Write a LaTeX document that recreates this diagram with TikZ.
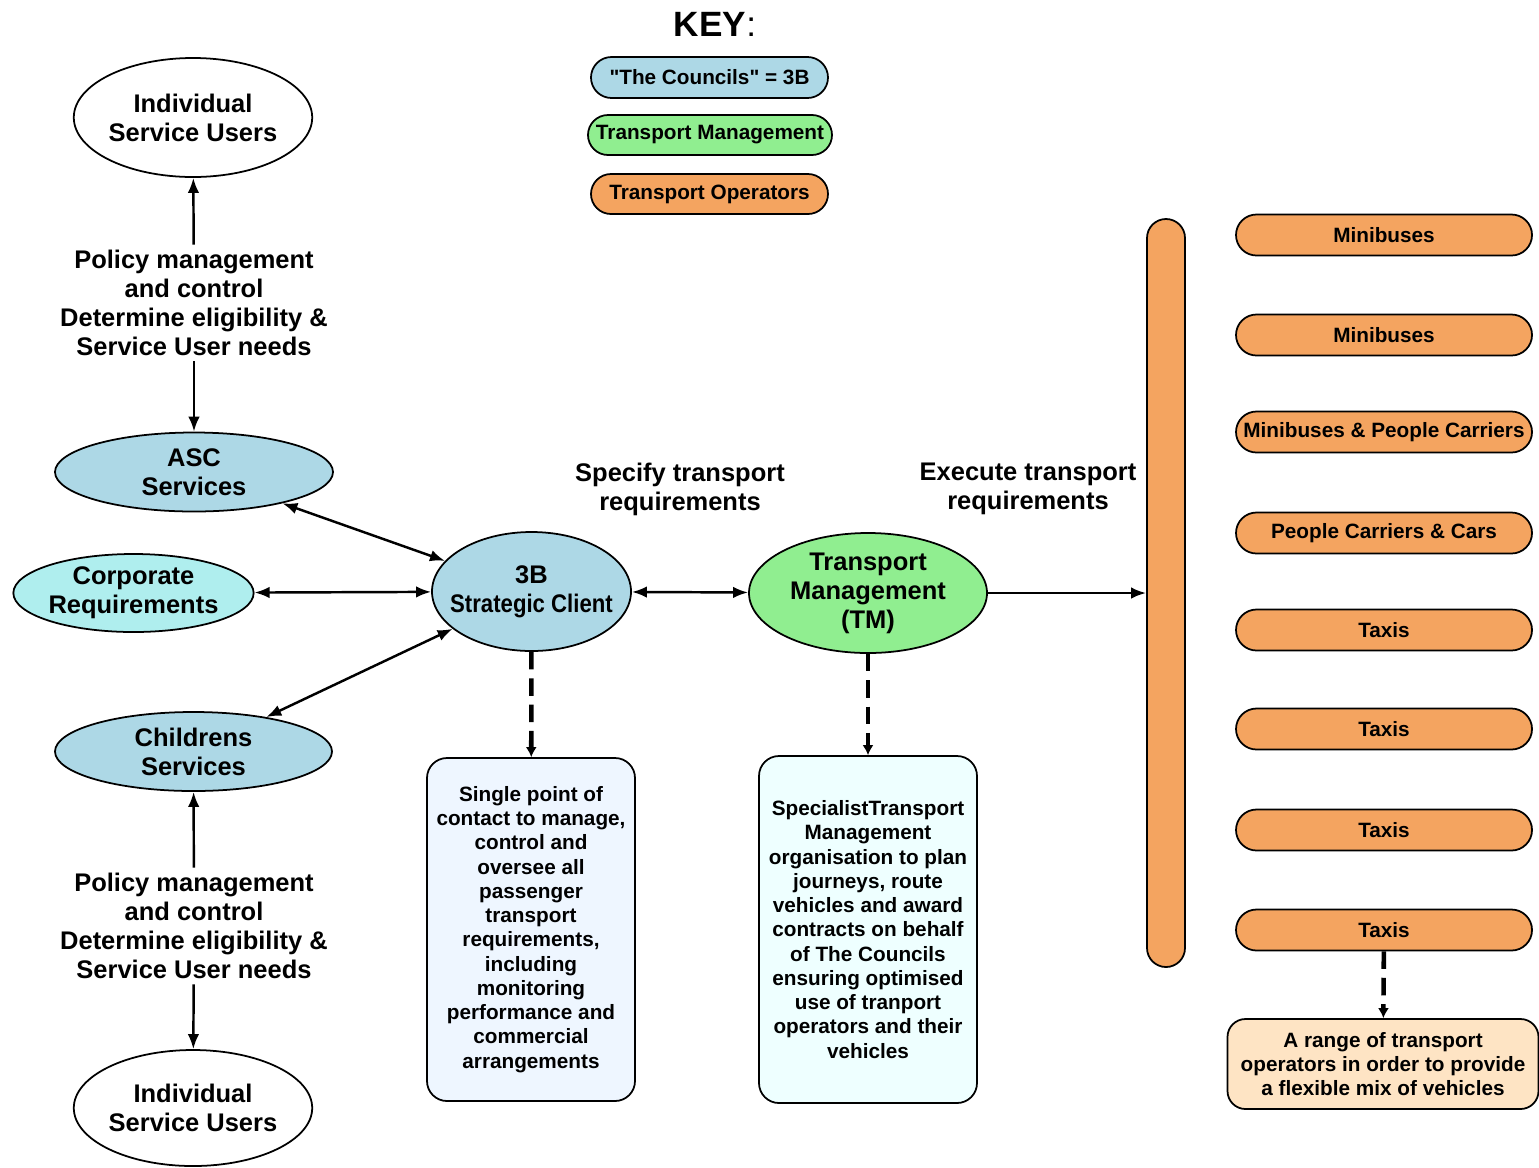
\documentclass[tikz,border=0pt]{standalone}
\usepackage{fontspec}
\setmainfont{Liberation Sans}[Ligatures=TeXOff]
\newfontfamily\narrowsf{Liberation Sans}[FakeStretch=0.87]
\usetikzlibrary{shapes, arrows.meta, positioning}
\definecolor{councilblue}{RGB}{173,216,230}
\definecolor{corpcyan}{RGB}{175,238,238}
\definecolor{tmgreen}{RGB}{144,238,144}
\definecolor{opsorange}{RGB}{244,164,96}
\definecolor{clientnote}{RGB}{238,246,255}
\definecolor{tmnote}{RGB}{238,255,255}
\definecolor{rangepeach}{RGB}{254,228,196}
\newcommand\lblfont{\fontsize{14.5}{16.5}\selectfont\bfseries}
\newcommand\notefont{\fontsize{11.8}{13.8}\selectfont\bfseries}
\newcommand\pilltext{\fontsize{11.8}{14}\selectfont\bfseries}
\tikzset{
  oval/.style={draw, ellipse, line width=1pt, inner sep=0pt, align=center, font=\lblfont},
  pill/.style={draw, rounded rectangle, fill=opsorange, line width=1pt, inner sep=0pt, font=\pilltext},
  notebox/.style={draw, rectangle, rounded corners=4mm, line width=1pt, inner sep=0pt, align=center, font=\notefont},
  lbl/.style={align=center, inner sep=3pt, font=\lblfont},
  flow/.style={{Latex[length=3mm,width=2.3mm]}-{Latex[length=3mm,width=2.3mm]}, line width=1.4pt},
  oneway/.style={-{Latex[length=3mm,width=2.3mm]}, line width=1.4pt},
  dashlink/.style={-{Latex[length=2mm,width=2.2mm]}, line width=2.6pt, dash pattern=on 10pt off 5pt}
}

\begin{document}
\begin{tikzpicture}[x=0.2mm, y=-0.2mm]
    \useasboundingbox (0,0) rectangle (1539,1167);

    % key
    \node [font=\fontsize{20}{24}\selectfont] (keytitle) at (715,24) {\textbf{KEY}:};
    \node [pill, fill=councilblue, minimum width=47.4mm, minimum height=8.2mm] (keycouncil) at (709.5,77.5) {"The Councils" = 3B};
    \node [pill, fill=tmgreen, minimum width=48.8mm, minimum height=8mm] (keytm) at (710,135) {Transport Management};
    \node [pill, minimum width=47.4mm, minimum height=8mm] (keyops) at (709.5,194) {Transport Operators};

    % service side
    \node [oval, fill=white, minimum width=47.6mm, minimum height=23.8mm] (usertop) at (193,117.5) {Individual\\Service Users};
    \node [lbl] (poltop) at (194,303) {Policy management\\and control\\Determine eligibility \&\\Service User needs};
    \node [oval, fill=councilblue, minimum width=55.6mm, minimum height=15.8mm] (asc) at (194,472) {ASC\\Services};
    \node [oval, fill=corpcyan, minimum width=47.8mm, minimum height=15.6mm] (corp) at (133.5,593) {Corporate\\Requirements};
    \node [oval, fill=councilblue, minimum width=55.4mm, minimum height=15.8mm] (child) at (193.5,751.5) {Childrens\\Services};
    \node [lbl] (polbot) at (194,926) {Policy management\\and control\\Determine eligibility \&\\Service User needs};
    \node [oval, fill=white, minimum width=47.6mm, minimum height=23.2mm] (userbot) at (193,1108) {Individual\\Service Users};

    % client and TM
    \node [oval, fill=councilblue, minimum width=39.8mm, minimum height=23.8mm] (client) at (531.5,591.5) {};
    \node [lbl, anchor=center] (clienttext) at (client) {3B\\{\narrowsf\bfseries Strategic Client}};
    \node [oval, fill=tmgreen, minimum width=47.6mm, minimum height=24mm] (tm) at (868,593) {Transport\\Management\\(TM)};
    \node [lbl] (specify) at (680,489) {Specify transport\\requirements};
    \node [lbl] (execute) at (1028,489) {Execute transport\\requirements};
    \node [notebox, fill=clientnote, minimum width=41.6mm, minimum height=68.6mm] (clientnote) at (531,929.5) {Single point of\\contact to manage,\\control and\\oversee all\\passenger\\transport\\requirements,\\including\\monitoring\\performance and\\commercial\\arrangements};
    \node [notebox, fill=tmnote, minimum width=43.6mm, minimum height=69.4mm] (tmnote) at (868,929.5) {SpecialistTransport\\Management\\organisation to plan\\journeys, route\\vehicles and award\\contracts on behalf\\of The Councils\\ensuring optimised\\use of tranport\\operators and their\\vehicles};

    % operators
    \node [draw, fill=opsorange, line width=1pt, rounded corners=3.8mm, minimum width=7.6mm, minimum height=149.6mm] (opsbar) at (1166,593) {};
    \node [pill, minimum width=59.2mm, minimum height=8.2mm] (minia) at (1384,235) {Minibuses};
    \node [pill, minimum width=59.2mm, minimum height=8.2mm] (minib) at (1384,335) {Minibuses};
    \node [pill, minimum width=59.2mm, minimum height=8.2mm] (minipc) at (1384,432) {Minibuses \& People Carriers};
    \node [pill, minimum width=59.2mm, minimum height=8.2mm] (pccars) at (1384,533) {People Carriers \& Cars};
    \node [pill, minimum width=59.2mm, minimum height=8.2mm] (taxia) at (1384,630) {Taxis};
    \node [pill, minimum width=59.2mm, minimum height=8.2mm] (taxib) at (1384,729) {Taxis};
    \node [pill, minimum width=59.2mm, minimum height=8.2mm] (taxic) at (1384,830) {Taxis};
    \node [pill, minimum width=59.2mm, minimum height=8.2mm] (taxid) at (1384,930) {Taxis};
    \node [notebox, fill=rangepeach, rounded corners=3.6mm, minimum width=62.2mm, minimum height=18mm] (range) at (1383,1064) {A range of transport\\operators in order to provide\\a flexible mix of vehicles};

    % connectors
    \draw [oneway] (poltop) -- (usertop);
    \draw [oneway] (poltop) -- (asc);
    \draw [oneway] (polbot) -- (child);
    \draw [oneway] (polbot) -- (userbot);
    \draw [flow] (asc) -- (client);
    \draw [flow] (corp) -- (client);
    \draw [flow] (child) -- (client);
    \draw [flow] (client) -- (tm);
    \draw [oneway] (tm) -- (opsbar);
    \draw [dashlink] (client) -- (clientnote);
    \draw [dashlink] (tm) -- (tmnote);
    \draw [dashlink] (taxid) -- (range);
\end{tikzpicture}
\end{document}
